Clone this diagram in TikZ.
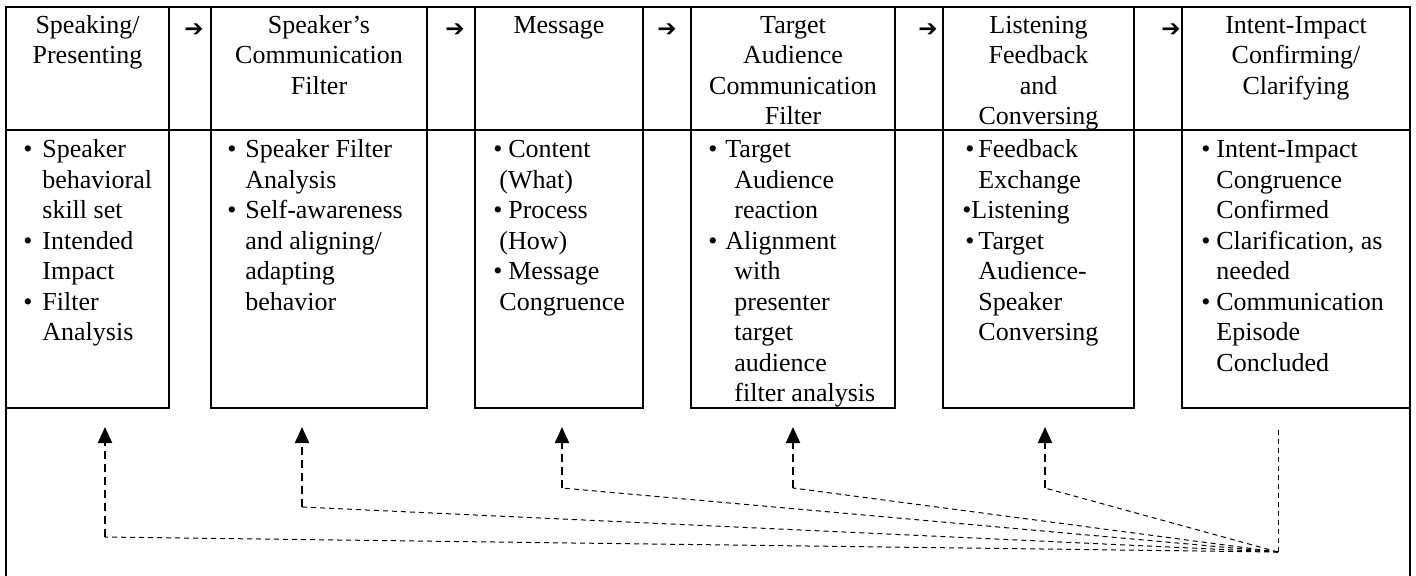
\documentclass[tikz,border=0pt]{standalone}
\usepackage{fontspec}
\setmainfont{Liberation Serif}
\newfontfamily\arrowfont{DejaVu Sans}
\usetikzlibrary{calc,arrows.meta}
\newcommand\bulx[1]{\makebox[#1][l]{\textbullet}}
\newcommand\contx[1]{\hspace*{#1}}
\begin{document}
\begin{tikzpicture}[x=0.5pt,y=-0.5pt,
  frame/.style={line width=1pt},
  cell/.style={draw,line width=1pt,inner sep=0,outer sep=0,anchor=north west},
  hcell/.style={cell,minimum height=61.5pt},
  bcell/.style={cell,minimum height=139pt},
  txt/.style={inner sep=0,font=\fontsize{13}{15.25}\selectfont},
  hd/.style={txt,align=center,anchor=north},
  bd/.style={txt,align=left,anchor=north west},
  flow/.style={font=\arrowfont\fontsize{11.5}{12}\selectfont,inner sep=0},
  thinD/.style={line width=0.5pt,dash pattern=on 2.5pt off 2pt},
  thickD/.style={line width=1pt,dash pattern=on 4pt off 2.5pt,-{Triangle[length=8pt,width=7pt]}}
]
\useasboundingbox (0,0) rectangle (1416,575);

% header row
\node[hcell,minimum width=81.5pt] (h1) at (6,7) {};
\node[hcell,minimum width=21pt]   (g1) at (169,7) {};
\node[hcell,minimum width=108pt]  (h2) at (211,7) {};
\node[hcell,minimum width=24pt]   (g2) at (427,7) {};
\node[hcell,minimum width=84pt]   (h3) at (475,7) {};
\node[hcell,minimum width=24pt]   (g3) at (643,7) {};
\node[hcell,minimum width=102pt]  (h4) at (691,7) {};
\node[hcell,minimum width=24pt]   (g4) at (895,7) {};
\node[hcell,minimum width=95.5pt] (h5) at (943,7) {};
\node[hcell,minimum width=24pt]   (g5) at (1134,7) {};
\node[hcell,minimum width=114pt]  (h6) at (1182,7) {};

% body row
\node[bcell,minimum width=81.5pt] (b1) at (6,130) {};
\node[bcell,minimum width=108pt]  (b2) at (211,130) {};
\node[bcell,minimum width=84pt]   (b3) at (475,130) {};
\node[bcell,minimum width=102pt]  (b4) at (691,130) {};
\node[bcell,minimum width=95.5pt] (b5) at (943,130) {};
\node[bcell,minimum width=114pt]  (b6) at (1182,130) {};

% outer frame sides
\coordinate (fl) at (6,576);
\coordinate (fr) at (1410,576);
\draw[frame] (h1.north west) -- (fl);
\draw[frame] (h6.north east) -- (fr);

% header texts
\node[hd] (t1) at ($(h1.north)+(0,4.5)$) {\strut Speaking/\\Presenting};
\node[hd] (t2) at ($(h2.north)+(0,4.5)$) {\strut Speaker’s\\Communication\\Filter};
\node[hd] (t3) at ($(h3.north)+(0,4.5)$) {\strut Message};
\node[hd] (t4) at ($(h4.north)+(0,4.5)$) {\strut Target\\Audience\\Communication\\Filter};
\node[hd] (t5) at ($(h5.north)+(0,4.5)$) {\strut Listening\\Feedback\\and\\Conversing};
\node[hd] (t6) at ($(h6.north)+(0,4.5)$) {\strut Intent-Impact\\Confirming/\\Clarifying};

% flow arrows
\node[flow] (f1) at (194,30) {➔};
\node[flow] (f2) at (455,30) {➔};
\node[flow] (f3) at (667,30) {➔};
\node[flow] (f4) at (928,30) {➔};
\node[flow] (f5) at (1171,30) {➔};

% body texts
\node[bd] (c1) at ($(b1.north west)+(17,6)$) {\strut\bulx{9.5pt}Speaker\\\contx{9.5pt}behavioral\\\contx{9.5pt}skill set\\\bulx{9.5pt}Intended\\\contx{9.5pt}Impact\\\bulx{9.5pt}Filter\\\contx{9.5pt}Analysis};
\node[bd] (c2) at ($(b2.north west)+(16,6)$) {\strut\bulx{9pt}Speaker Filter\\\contx{9pt}Analysis\\\bulx{9pt}Self-awareness\\\contx{9pt}and aligning/\\\contx{9pt}adapting\\\contx{9pt}behavior};
\node[bd] (c3) at ($(b3.north west)+(18,6)$) {\strut\bulx{7.5pt}Content\\\contx{3pt}(What)\\\bulx{7.5pt}Process\\\contx{3pt}(How)\\\bulx{7.5pt}Message\\\contx{3pt}Congruence};
\node[bd] (c4) at ($(b4.north west)+(17,6)$) {\strut\bulx{8.5pt}Target\\\contx{13pt}Audience\\\contx{13pt}reaction\\\bulx{8.5pt}Alignment\\\contx{13pt}with\\\contx{13pt}presenter\\\contx{13pt}target\\\contx{13pt}audience\\\contx{13pt}filter analysis};
\node[bd] (c5) at ($(b5.north west)+(22,6)$) {\strut\bulx{6.5pt}Feedback\\\contx{6.5pt}Exchange\\\hspace*{-1.5pt}\bulx{4.5pt}Listening\\\bulx{6.5pt}Target\\\contx{6.5pt}Audience-\\\contx{6.5pt}Speaker\\\contx{6.5pt}Conversing};
\node[bd] (c6) at ($(b6.north west)+(19,6)$) {\strut\bulx{7.5pt}Intent-Impact\\\contx{7.5pt}Congruence\\\contx{7.5pt}Confirmed\\\bulx{7.5pt}Clarification, as\\\contx{7.5pt}needed\\\bulx{7.5pt}Communication\\\contx{7.5pt}Episode\\\contx{7.5pt}Concluded};

% feedback connectors
\coordinate (hub) at (1278,552);
\coordinate (k1) at (105,537);  \coordinate (p1) at (105,427);
\coordinate (k2) at (302,507);  \coordinate (p2) at (302,427);
\coordinate (k3) at (562,488);  \coordinate (p3) at (562,427);
\coordinate (k4) at (793,488);  \coordinate (p4) at (793,427);
\coordinate (k5) at (1045,488); \coordinate (p5) at (1045,427);
\coordinate (p6) at (1278,427);
\foreach \i in {1,...,5}{
  \draw[thinD] (hub) -- (k\i);
  \draw[thickD] (k\i) -- (p\i);
}
\draw[thinD] (hub) -- (p6);
\end{tikzpicture}
\end{document}
